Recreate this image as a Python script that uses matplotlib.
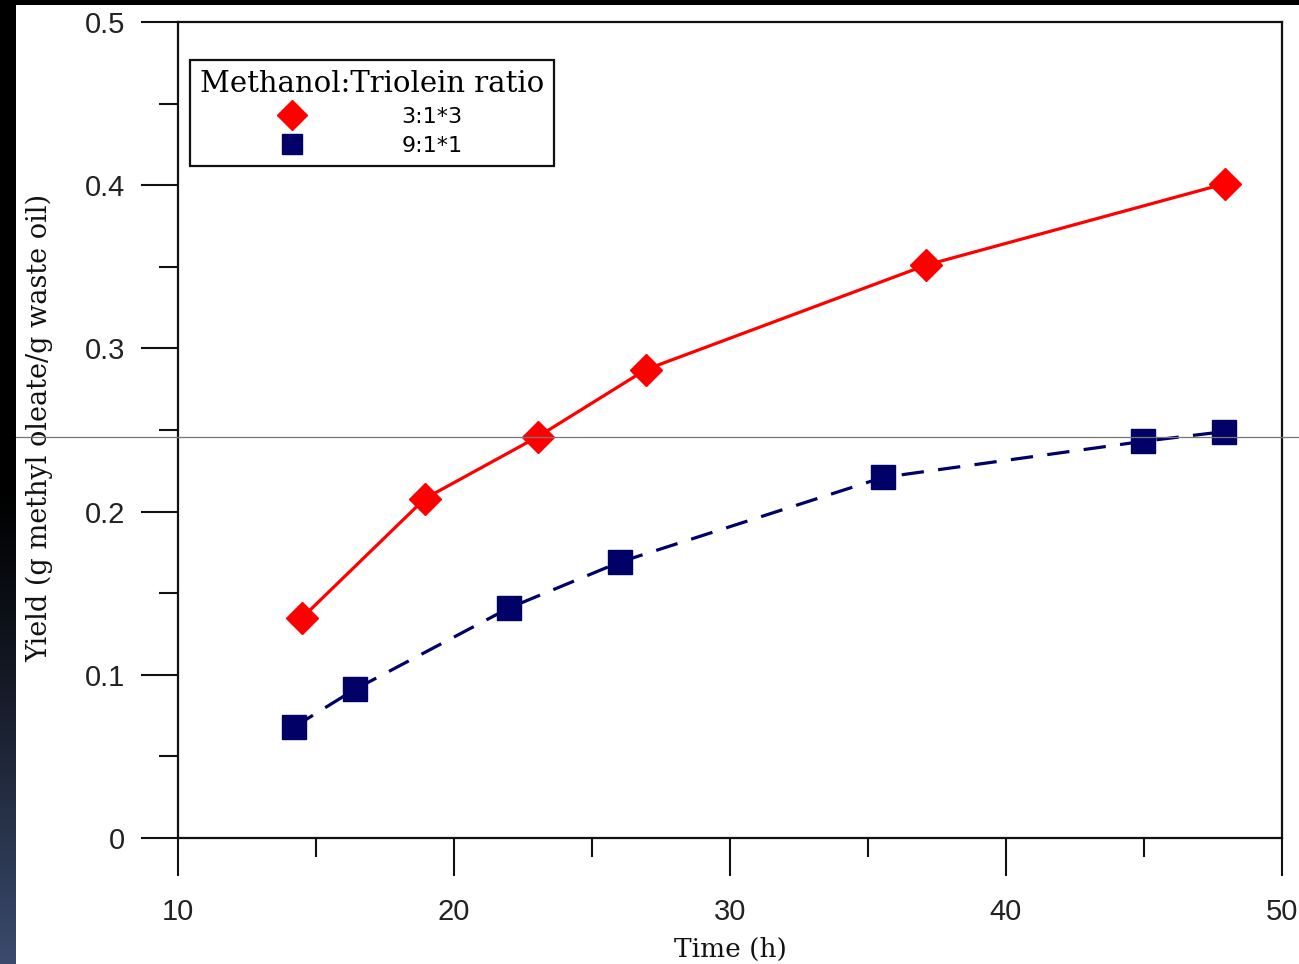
import numpy as np
import matplotlib
matplotlib.use("Agg")
import matplotlib.pyplot as plt
from matplotlib.lines import Line2D
from matplotlib.patches import Rectangle

# ---- data ----
series_names = ["3:1*3", "9:1*1"]
legend_title = "Methanol:Triolein ratio"
x_red = [14.5, 18.95, 23.05, 26.95, 37.1, 47.95]
y_red = [0.135, 0.208, 0.246, 0.287, 0.351, 0.401]
x_blue = [14.2, 16.4, 22.0, 26.0, 35.55, 44.95, 47.9]
y_blue = [0.068, 0.091, 0.141, 0.169, 0.221, 0.243, 0.249]
x_ticks = [10, 20, 30, 40, 50]
y_ticks = [0, 0.1, 0.2, 0.3, 0.4, 0.5]
y_tick_labels = ["0", "0.1", "0.2", "0.3", "0.4", "0.5"]
x_label = "Time (h)"
y_label = "Yield (g methyl oleate/g waste oil)"

W, H = 1299, 964
fig = plt.figure(figsize=(W / 100, H / 100), dpi=100, facecolor="white")

# background strips (black top, gradient left)
bg = fig.add_axes([0, 0, 1, 1], zorder=-10)
bg.set_xlim(0, W); bg.set_ylim(H, 0); bg.axis("off")
bg.add_patch(Rectangle((0, 0), W, 5, color="black", lw=0))
t = np.linspace(0, 1, 256)
ramp = np.clip((t - 0.5) / 0.5, 0, 1) ** 1.2
top_c = np.array([0, 0, 0]); bot_c = np.array([0x3b, 0x4b, 0x6e]) / 255
grad = top_c[None, :] * (1 - ramp[:, None]) + bot_c[None, :] * ramp[:, None]
bg.imshow(grad[:, None, :], extent=(0, 16, H, 0), aspect="auto", interpolation="bilinear")
bg.set_xlim(0, W); bg.set_ylim(H, 0)

ax_l, ax_r, ax_t, ax_b = 178, 1282, 22, 838
ax = fig.add_axes([ax_l / W, 1 - ax_b / H, (ax_r - ax_l) / W, (ax_b - ax_t) / H])
ax.set_xlim(10, 50)
ax.set_ylim(0, 0.5)

ax.plot(x_red, y_red, color="#ff0000", lw=2.3, marker="D", ms=16, mec="#ff0000",
        mfc="#ff0000", zorder=3)
ax.plot(x_blue, y_blue, color="#000066", lw=2.3, ls=(0, (7, 4.5)), marker="s", ms=17,
        mec="#000066", mfc="#000066", zorder=3)

for s in ax.spines.values():
    s.set_linewidth(1.6)
    s.set_color("#111111")

ax.set_xticks(x_ticks)
ax.set_xticks([15, 25, 35, 45], minor=True)
ax.set_yticks(y_ticks)
ax.set_yticklabels(y_tick_labels)
ax.set_yticks([0.05, 0.15, 0.25, 0.35, 0.45], minor=True)
ax.tick_params(which="major", direction="out", length=27, width=1.5, color="#111111",
               labelsize=21, labelcolor="#222222")
ax.tick_params(axis="y", which="major", pad=11)
ax.tick_params(axis="x", which="major", pad=16)
ax.tick_params(which="minor", direction="out", length=14, width=1.5, color="#111111")
for lab in ax.get_xticklabels() + ax.get_yticklabels():
    lab.set_family("Liberation Sans")

ax.set_xlabel(x_label, family="DejaVu Serif", fontsize=19, color="#111111", labelpad=8)
ax.set_ylabel(y_label, family="DejaVu Serif", fontsize=19.5, color="#111111")
ax.yaxis.set_label_coords((53 - ax_l) / (ax_r - ax_l), (ax_b - 428) / (ax_b - ax_t))

handles = [Line2D([], [], ls="none", marker="D", ms=15, color="#ff0000"),
           Line2D([], [], ls="none", marker="s", ms=15, color="#000066")]
leg = ax.legend(handles, series_names, title=legend_title, loc="upper left",
                bbox_to_anchor=((190 - ax_l) / (ax_r - ax_l), (ax_b - 60) / (ax_b - ax_t)),
                borderaxespad=0, fancybox=False, framealpha=1, edgecolor="#111111",
                prop={"family": "DejaVu Sans", "size": 16},
                title_fontproperties={"family": "DejaVu Serif", "size": 21},
                handlelength=0.9, handletextpad=4.5, labelspacing=0.4, borderpad=0.45)
leg.get_frame().set_linewidth(1.6)

# thin horizontal grey rule across the slide
fig.add_artist(Line2D([16 / W, 1], [1 - 437 / H, 1 - 437 / H], color="#777777", lw=0.9,
                      transform=fig.transFigure, zorder=5))

fig.savefig("out.png", dpi=100, facecolor="white")
